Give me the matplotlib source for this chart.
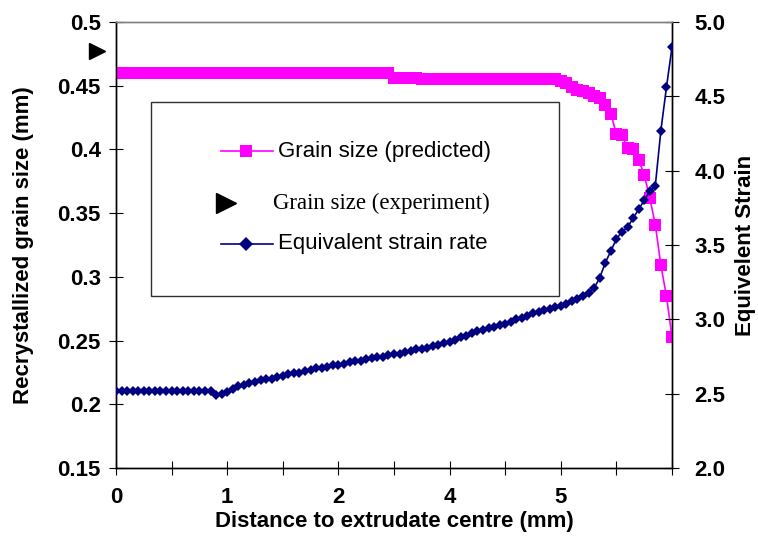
"""Recrystallized grain size and equivalent strain vs distance to extrudate centre."""

import matplotlib
matplotlib.use("Agg")
import matplotlib.pyplot as plt
from matplotlib.lines import Line2D
from matplotlib.patches import Rectangle
import numpy as np

# category positions (Excel-style category axis, 101 points)
n_points = 101
x_tick_pos = [0, 10, 20, 30, 40, 50, 60, 70, 80, 90, 100]
x_tick_labels = ["0", "", "1", "", "2", "", "4", "", "5", "", ""]

# grain size predicted (mm), left axis
grain_pred = (
    [0.460] * 50
    + [0.456] * 5
    + [0.455] * 25
    + [0.454, 0.452, 0.449, 0.447, 0.446, 0.444, 0.442, 0.440, 0.435, 0.428,
       0.412, 0.411, 0.401, 0.400, 0.392, 0.380, 0.362, 0.341, 0.309, 0.285,
       0.253]
)

# grain size experiment (mm), plotted just outside the left axis
grain_exp = [0.477]
grain_exp_pos = [-3.4]

# equivalent strain, right axis
strain = (
    [2.52] * 18
    + [2.49, 2.50, 2.51, 2.53, 2.55, 2.56, 2.57, 2.58, 2.59, 2.60,
       2.60, 2.61, 2.62, 2.63, 2.64, 2.64, 2.65, 2.66, 2.67, 2.67,
       2.68, 2.69, 2.69, 2.70, 2.71, 2.72, 2.72, 2.73, 2.74, 2.75,
       2.75, 2.76, 2.77, 2.77, 2.78, 2.79, 2.80, 2.80, 2.81, 2.82,
       2.83, 2.84, 2.85, 2.86, 2.88, 2.89, 2.91, 2.92, 2.93, 2.94,
       2.95, 2.96, 2.97, 2.98, 3.00, 3.01, 3.02, 3.04, 3.05, 3.06,
       3.07, 3.08, 3.09, 3.10, 3.12, 3.14, 3.16, 3.18, 3.21, 3.28,
       3.38, 3.46, 3.54, 3.59, 3.62, 3.68, 3.74, 3.80, 3.86, 3.90,
       4.27, 4.56, 4.83]
)

left_ticks = [0.15, 0.2, 0.25, 0.3, 0.35, 0.4, 0.45, 0.5]
left_tick_labels = ["0.15", "0.2", "0.25", "0.3", "0.35", "0.4", "0.45", "0.5"]
right_ticks = [2.0, 2.5, 3.0, 3.5, 4.0, 4.5, 5.0]
right_tick_labels = ["2.0", "2.5", "3.0", "3.5", "4.0", "4.5", "5.0"]

PINK = "#FF00FF"
NAVY = "#000080"
SANS = ["Liberation Sans", "DejaVu Sans"]
SERIF = ["Liberation Serif", "DejaVu Serif"]

W, H = 758, 542
AX_L, AX_R, AX_T, AX_B = 116, 672, 22, 468
fig = plt.figure(figsize=(W / 100, H / 100), dpi=100)
ax = fig.add_axes([AX_L / W, 1 - AX_B / H, (AX_R - AX_L) / W, (AX_B - AX_T) / H])
ax2 = ax.twinx()

idx = np.arange(n_points)

ax.plot(idx, grain_pred, color=PINK, marker="s", markersize=8.5, linewidth=1.2,
        markeredgewidth=0, zorder=3)
ax.plot(grain_exp_pos, grain_exp, linestyle="none", marker=">", color="black",
        markersize=12, clip_on=False, zorder=4)
ax2.plot(idx, strain, color=NAVY, marker="D", markersize=5.5, linewidth=1.2,
         markeredgewidth=0, zorder=3)

ax.set_xlim(0, n_points - 1)
ax.set_ylim(0.15, 0.5)
ax2.set_ylim(2.0, 5.0)

ax.set_xticks(x_tick_pos)
ax.set_xticklabels(x_tick_labels)
ax.set_yticks(left_ticks)
ax.set_yticklabels(left_tick_labels)
ax2.set_yticks(right_ticks)
ax2.set_yticklabels(right_tick_labels)

for lab in ax.get_xticklabels() + ax.get_yticklabels() + ax2.get_yticklabels():
    lab.set_fontfamily(SANS)
    lab.set_fontweight("bold")
    lab.set_fontsize(16)

ax.tick_params(axis="both", direction="inout", length=10, width=0.8)
ax.tick_params(axis="y", pad=6)
ax.tick_params(axis="x", pad=9)
ax2.tick_params(axis="y", direction="inout", length=10, width=0.8, pad=11)

for a in (ax, ax2):
    for side in ("left", "right", "bottom"):
        a.spines[side].set_color("black")
        a.spines[side].set_linewidth(1.0)
    a.spines["top"].set_color("#808080")
    a.spines["top"].set_linewidth(1.0)

title_kw = dict(fontfamily=SANS, fontweight="bold", fontsize=16)
ax.set_xlabel("Distance to extrudate centre (mm)", va="center", **title_kw)
ax.set_ylabel("Recrystallized grain size (mm)", va="center", **title_kw)
ax2.set_ylabel("Equivelent Strain", va="center", **title_kw)
span_x = AX_R - AX_L
span_y = AX_B - AX_T
ax.xaxis.set_label_coords(0.5, (AX_B - 521) / span_y)
ax.yaxis.set_label_coords((24 - AX_L) / span_x, 0.5)
ax2.yaxis.set_label_coords((745 - AX_L) / span_x, 0.5)


# Legend box drawn in figure pixel coordinates
def fx(px):
    return px / W


def fy(py):
    return 1 - py / H


fig.patches.append(Rectangle((fx(151), fy(296)), fx(559) - fx(151), fy(102) - fy(296),
                             transform=fig.transFigure, facecolor="white",
                             edgecolor="#303030", linewidth=1.0, zorder=5))
fig.lines.append(Line2D([fx(221), fx(273)], [fy(151), fy(151)], color=PINK,
                        linewidth=1.2, transform=fig.transFigure, zorder=6))
fig.lines.append(Line2D([fx(246)], [fy(151)], color=PINK, marker="s", markersize=9,
                        markeredgewidth=0, transform=fig.transFigure, zorder=6))
fig.lines.append(Line2D([fx(226)], [fy(203)], color="black", marker=">", markersize=15,
                        linestyle="none", transform=fig.transFigure, zorder=6))
fig.lines.append(Line2D([fx(221), fx(273)], [fy(244), fy(244)], color=NAVY,
                        linewidth=1.2, transform=fig.transFigure, zorder=6))
fig.lines.append(Line2D([fx(246)], [fy(244)], color=NAVY, marker="D", markersize=7,
                        markeredgewidth=0, transform=fig.transFigure, zorder=6))
fig.text(fx(278), fy(151), "Grain size (predicted)", fontfamily=SANS, fontsize=16,
         va="center", ha="left", zorder=7)
fig.text(fx(273), fy(203), "Grain size (experiment)", fontfamily=SERIF, fontsize=16.5,
         va="center", ha="left", zorder=7)
fig.text(fx(278), fy(244), "Equivalent strain rate", fontfamily=SANS, fontsize=16,
         va="center", ha="left", zorder=7)

fig.savefig("out.png", dpi=100)
plt.close(fig)
